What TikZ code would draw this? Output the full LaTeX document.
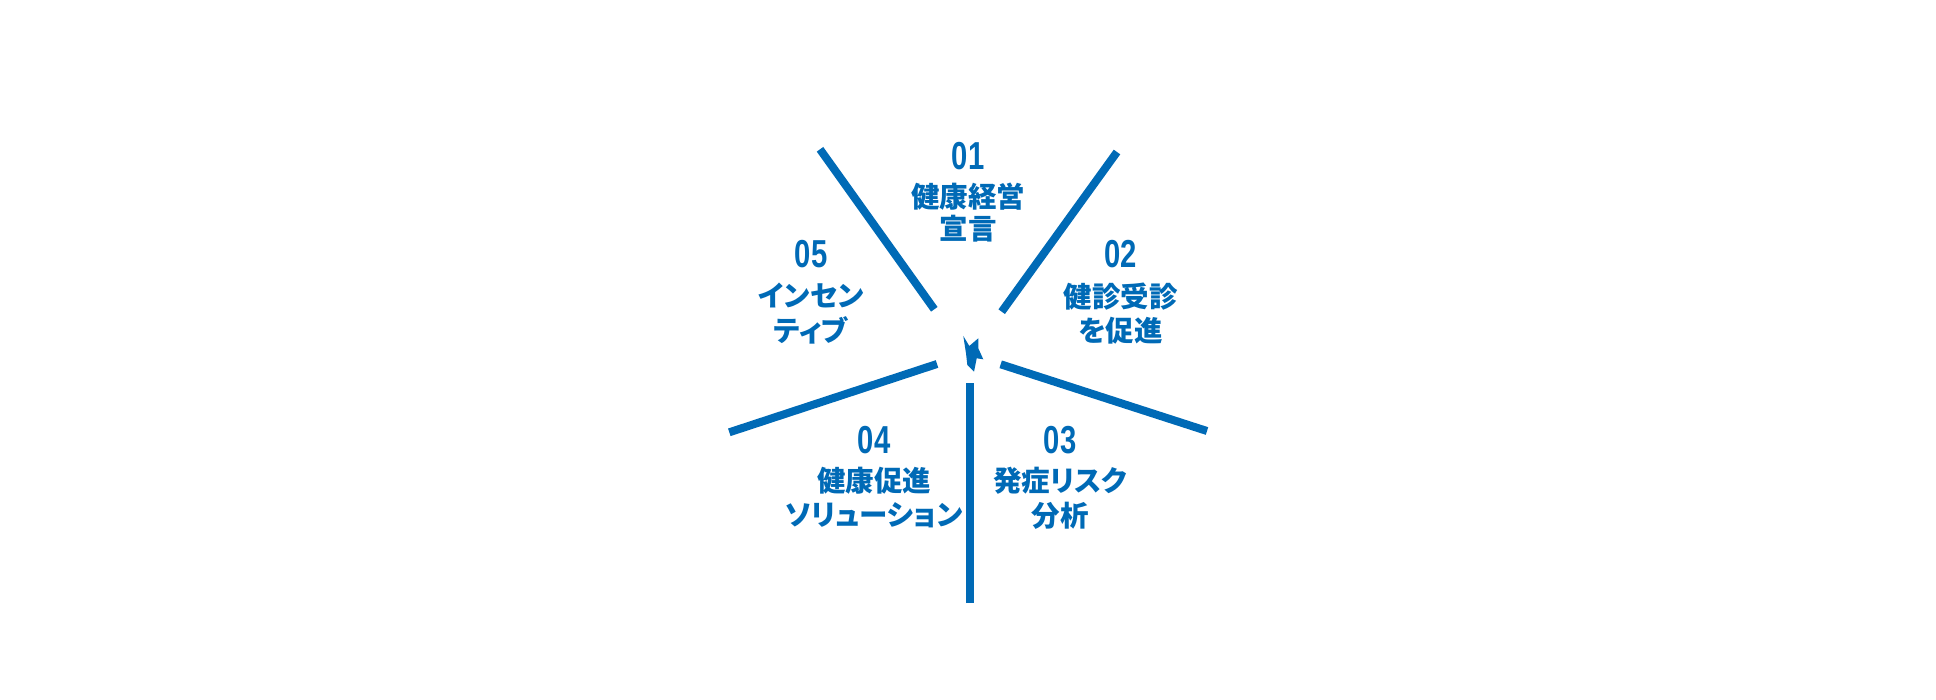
\documentclass[tikz,border=0pt]{standalone}
\usepackage{fontspec}
\newfontfamily\jpfont{Noto Sans CJK JP}[RawFeature=+palt]
\newfontfamily\numfont{Liberation Sans}[FakeStretch=0.75]
\definecolor{brandblue}{RGB}{0,106,182}
\begin{document}
\begin{tikzpicture}[x=1pt,y=-1pt,
  spoke/.style={draw=brandblue, line width=8pt, line cap=butt},
  num/.style={font=\numfont\bfseries\fontsize{39}{39}\selectfont, text=brandblue, anchor=base, inner sep=0pt},
  lbl/.style={font=\jpfont\bfseries\fontsize{28.5}{28.5}\selectfont, text=brandblue, anchor=base, inner sep=0pt}]
\useasboundingbox (0,0) rectangle (1936,700);
% spoke end points
\coordinate (nwo) at (820,149.3);   \coordinate (nwi) at (934.3,309.3);
\coordinate (neo) at (1117,152);    \coordinate (nei) at (1001.7,311.7);
\coordinate (eo)  at (1207,431);    \coordinate (ei)  at (1000.7,364.3);
\coordinate (swo) at (729.3,432.3); \coordinate (swi) at (937,364);
\coordinate (so)  at (969.5,603);   \coordinate (si)  at (969.5,382.7);
\draw[spoke] (nwo) -- (nwi);
\draw[spoke] (neo) -- (nei);
\draw[spoke] (eo) -- (ei);
\draw[spoke] (swo) -- (swi);
\draw[spoke] (so) -- (si);
% central fragment
\fill[brandblue] (963.3,336) -- (969.3,346) -- (978.3,338.3) -- (978.3,348.3) -- (983.3,359.3)
  -- (976.7,358.3) -- (974,371.7) -- (967.3,365) -- (966,353.3) -- cycle;
% 01
\node[num] (n1) at (968,169.5) {01};
\node[lbl] (a1) at (968,208) {健康経営};
\node[lbl] (b1) at (968,240) {宣言};
% 02
\node[num] (n2) at (1120.5,267.3) {02};
\node[lbl] (a2) at (1120.5,308) {健診受診};
\node[lbl] (b2) at (1120.5,341.3) {を促進};
% 03
\node[num] (n3) at (1060,453.3) {03};
\node[lbl] (a3) at (1060,491.3) {発症リスク};
\node[lbl] (b3) at (1060,526.3) {分析};
% 04
\node[num] (n4) at (874,453.3) {04};
\node[lbl] (a4) at (874,491.3) {健康促進};
\node[lbl] (b4) at (874,525) {ソリューション};
% 05
\node[num] (n5) at (811,267.3) {05};
\node[lbl] (a5) at (811,307) {インセン};
\node[lbl] (b5) at (811,341.5) {ティブ};
\end{tikzpicture}
\end{document}
